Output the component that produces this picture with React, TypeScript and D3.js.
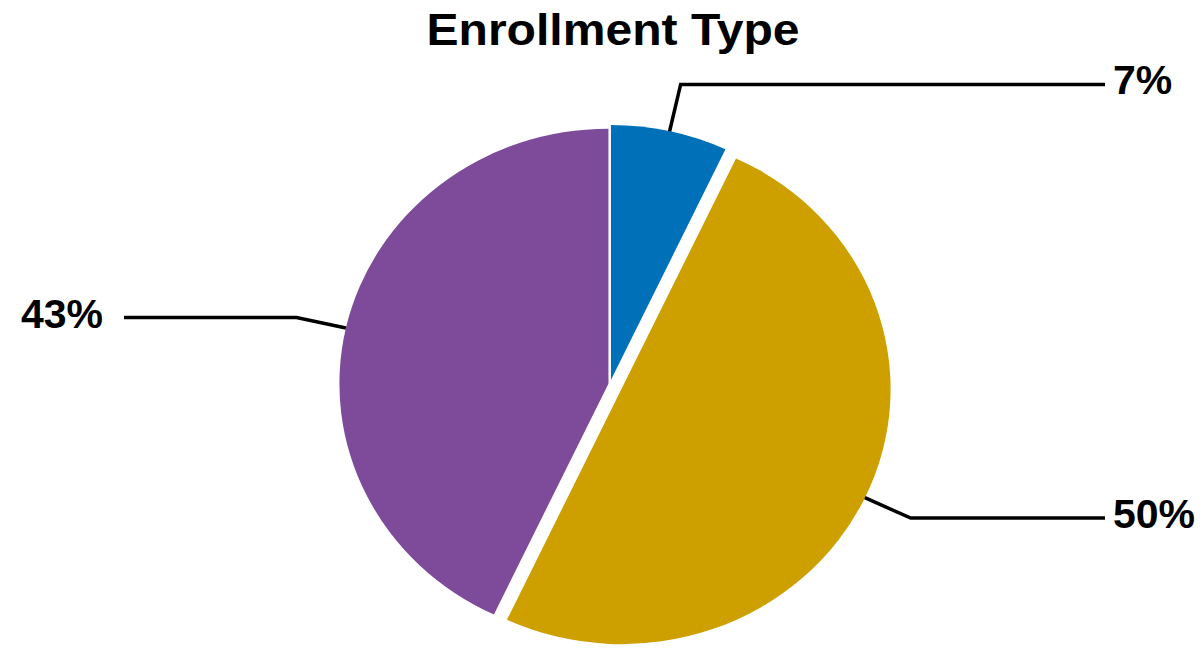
import React from "react";
import * as d3 from "d3";

const categories = ["Type A", "Type B", "Type C"];
const values = [7, 50, 43];
const labels = ["7%", "50%", "43%"];
const colors = ["#0070B8", "#CDA000", "#7D4B9A"];
const explode = [4, 12, 1.5];
const title = "Enrollment Type";

const W = 1202;
const H = 648;
const cx = 610;
const cy = 384;
const R = 255;
const SX = 1.055;

export default function App() {
  const pie = d3.pie<number>().sort(null).value((d) => d)(values);
  const arc = d3.arc<d3.PieArcDatum<number>>().innerRadius(0).outerRadius(R);

  return (
    <svg
      width={W}
      height={H}
      style={{ position: "absolute", left: 0, top: 0, background: "#fff" }}
      fontFamily="'Liberation Sans', Arial, sans-serif"
    >
      <text
        x={613}
        y={45}
        textAnchor="middle"
        fontSize={45}
        fontWeight="bold"
        textLength={373}
        lengthAdjust="spacingAndGlyphs"
      >
        {title}
      </text>
      <g transform={`translate(${cx},${cy}) scale(${SX},1)`}>
        {pie.map((p, i) => {
          const mid = (p.startAngle + p.endAngle) / 2;
          const dx = explode[i] * Math.sin(mid);
          const dy = -explode[i] * Math.cos(mid);
          return (
            <path
              key={categories[i]}
              d={arc(p) || ""}
              transform={`translate(${dx},${dy})`}
              fill={colors[i]}
            />
          );
        })}
      </g>
      {pie.map((p, i) => {
        const mid = (p.startAngle + p.endAngle) / 2;
        const s = Math.sin(mid);
        const c = -Math.cos(mid);
        const ox = cx + explode[i] * s * SX;
        const oy = cy + explode[i] * c;
        const x0 = ox + R * s * SX;
        const y0 = oy + R * c;
        const x1 = ox + (R + 48) * s * SX;
        const y1 = oy + (R + 48) * c;
        const right = s >= 0;
        const x2 = right ? 1105 : 124;
        return (
          <g key={"lab" + i}>
            <polyline
              points={`${x0},${y0} ${x1},${y1} ${x2},${y1}`}
              fill="none"
              stroke="#000"
              strokeWidth={3.5}
            />
            <text
              x={right ? 1113 : 103}
              y={y1 + 10}
              textAnchor={right ? "start" : "end"}
              fontSize={41}
              fontWeight="bold"
            >
              {labels[i]}
            </text>
          </g>
        );
      })}
    </svg>
  );
}
